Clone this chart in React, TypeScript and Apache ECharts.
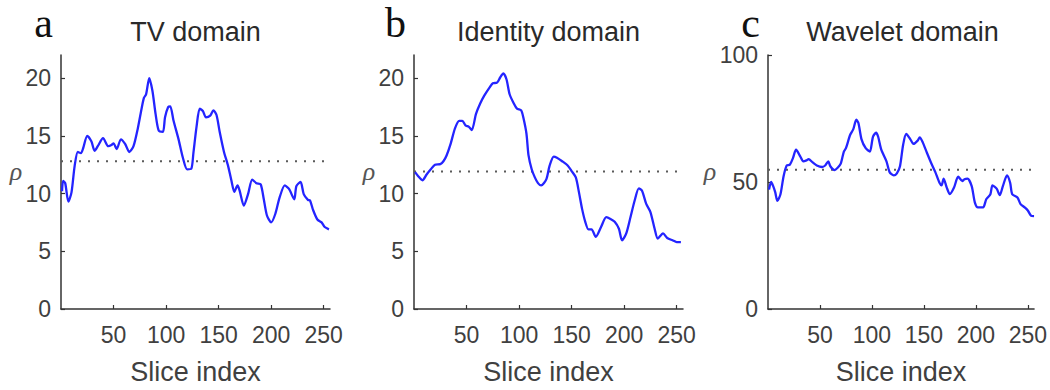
import React, { useEffect, useRef } from "react";
import * as echarts from "echarts";

// Slice index / rho pairs for the three regularisation domains
const tvSlices = [1, 2, 4, 7, 10, 13, 16, 19, 21, 25, 29, 32, 35, 40, 45, 48, 50, 53, 57, 61, 65, 69, 73, 77, 79, 81, 84, 87, 90, 93, 97, 99, 102, 104, 107, 112, 116, 120, 124, 126, 129, 132, 135, 138, 142, 145, 148, 151, 155, 159, 162, 165, 168, 170, 174, 178, 182, 186, 190, 193, 196, 200, 204, 208, 213, 217, 222, 224, 228, 231, 235, 237, 240, 244, 248, 251, 255];
const tvRho = [10.2, 11.1, 10.9, 9.3, 10.1, 12.4, 13.6, 13.5, 13.9, 15.0, 14.5, 13.7, 14.1, 14.8, 14.1, 14.2, 14.35, 13.85, 14.7, 14.3, 13.6, 14.1, 15.6, 17.5, 18.3, 18.6, 20.0, 18.9, 16.9, 15.45, 15.35, 16.6, 17.5, 17.55, 16.35, 14.65, 13.1, 12.1, 12.15, 13.5, 15.8, 17.35, 17.15, 16.6, 16.75, 17.2, 16.8, 15.35, 13.65, 12.4, 11.2, 10.15, 10.7, 10.25, 8.95, 9.95, 11.2, 10.9, 10.8, 9.5, 8.1, 7.5, 8.25, 9.65, 10.7, 10.4, 9.5, 10.65, 11.0, 9.95, 9.45, 9.4, 8.55, 7.75, 7.5, 7.1, 6.9];

const idSlices = [1, 4, 8, 12, 16, 20, 25, 28, 31, 35, 39, 43, 46, 49, 52, 55, 59, 63, 67, 72, 75, 79, 82, 85, 88, 91, 95, 98, 102, 104, 107, 109, 112, 115, 118, 121, 126, 129, 133, 136, 141, 146, 150, 154, 157, 160, 163, 166, 169, 173, 178, 183, 187, 191, 195, 198, 202, 206, 210, 214, 217, 221, 225, 229, 232, 237, 241, 246, 250, 254];
const idRho = [11.85, 11.5, 11.15, 11.65, 12.1, 12.5, 12.55, 12.8, 13.3, 14.35, 15.65, 16.3, 16.3, 15.9, 15.8, 15.5, 16.9, 17.8, 18.5, 19.2, 19.55, 19.6, 20.05, 20.4, 19.9, 18.6, 17.8, 17.35, 17.2, 16.6, 15.2, 13.3, 12.1, 11.4, 10.9, 10.7, 11.25, 12.4, 13.2, 13.1, 12.8, 12.45, 11.95, 11.4, 10.1, 8.65, 7.55, 6.9, 6.9, 6.25, 7.1, 7.95, 7.8, 7.55, 6.95, 5.95, 6.55, 7.95, 9.4, 10.45, 10.25, 9.1, 8.4, 6.95, 6.1, 6.55, 6.15, 5.95, 5.8, 5.8];

const wvSlices = [1, 3, 5, 7, 9, 12, 15, 18, 21, 24, 27, 31, 34, 37, 39, 43, 47, 52, 55, 58, 60, 64, 67, 70, 73, 75, 79, 82, 85, 87, 90, 94, 98, 101, 104, 106, 109, 114, 117, 121, 124, 127, 130, 133, 137, 140, 144, 146, 149, 153, 157, 161, 165, 167, 169, 172, 175, 179, 183, 187, 189, 192, 196, 199, 202, 207, 210, 214, 216, 220, 223, 226, 230, 233, 235, 240, 243, 247, 250, 253, 256];
const wvRho = [47, 50, 48.4, 45.9, 42.6, 45.2, 52.3, 56.5, 56.8, 59.4, 62.7, 60.1, 58.1, 58.5, 59.0, 57.7, 56.5, 55.9, 56.5, 58.1, 56.2, 54.7, 55.6, 57.2, 62.0, 63.3, 68.5, 70.7, 74.5, 73.2, 66.8, 63.3, 62.0, 67.8, 69.4, 67.8, 62.7, 58.1, 53.9, 52.6, 53.4, 56.2, 64.6, 68.9, 66.8, 65.0, 66.3, 67.6, 65.5, 61.4, 57.5, 53.9, 49.7, 48.7, 51.3, 47.8, 45.2, 47.8, 52.1, 50.4, 51.1, 51.3, 48.4, 42.0, 40.0, 40.0, 43.2, 45.2, 48.7, 47.4, 44.8, 48.4, 52.6, 49.7, 45.2, 43.9, 41.3, 40.0, 38.8, 36.8, 36.6];

// Mean rho of each domain (dotted reference line)
const meanRho = [12.8, 11.9, 54.8];

const panelTitles = ["TV domain", "Identity domain", "Wavelet domain"];
const panelLetters = ["a", "b", "c"];
const yMax = [22, 22, 100];
const yTicks = [
  [0, 5, 10, 15, 20],
  [0, 5, 10, 15, 20],
  [0, 50, 100],
];
const xTicks = [50, 100, 150, 200, 250];
const sliceRange = [0, 256];

const curves = [
  { slices: tvSlices, rho: tvRho },
  { slices: idSlices, rho: idRho },
  { slices: wvSlices, rho: wvRho },
];

const gridLefts = [61, 414, 768];
const gridTop = 55;
const gridWidth = 269;
const gridHeight = 258;

const axisColor = "#333333";
const textColor = "#404040";
const sans = "'Liberation Sans', Arial, Helvetica, sans-serif";

export default function App() {
  const ref = useRef<HTMLDivElement>(null);

  useEffect(() => {
    if (!ref.current) return;
    const chart = echarts.init(ref.current, undefined, { renderer: "svg" });

    const grids = gridLefts.map((left) => ({
      left,
      top: gridTop,
      width: gridWidth,
      height: gridHeight,
      containLabel: false,
    }));

    const axisLine = { show: true, lineStyle: { color: axisColor, width: 1.5 } };

    const xAxes = gridLefts.map((_, i) => ({
      type: "value",
      gridIndex: i,
      min: sliceRange[0],
      max: sliceRange[1],
      axisLine,
      axisTick: {
        show: true,
        inside: true,
        length: 4,
        customValues: xTicks,
        lineStyle: { color: axisColor, width: 1.2 },
      },
      axisLabel: {
        customValues: xTicks,
        margin: 14,
        fontSize: 23,
        color: textColor,
        fontFamily: sans,
      },
      splitLine: { show: false },
      name: "Slice index",
      nameLocation: "middle",
      nameGap: 49,
      nameTextStyle: { fontSize: 27, color: textColor, fontFamily: sans },
    }));

    const yAxes = gridLefts.map((_, i) => ({
      type: "value",
      gridIndex: i,
      min: 0,
      max: yMax[i],
      axisLine,
      axisTick: {
        show: true,
        inside: true,
        length: 4,
        customValues: yTicks[i],
        lineStyle: { color: axisColor, width: 1.2 },
      },
      axisLabel: {
        customValues: yTicks[i],
        margin: 10,
        fontSize: 23,
        color: textColor,
        fontFamily: sans,
      },
      splitLine: { show: false },
    }));

    const curveSeries = curves.map((c, i) => ({
      type: "line",
      xAxisIndex: i,
      yAxisIndex: i,
      data: c.slices.map((s, k) => [s, c.rho[k]]),
      showSymbol: false,
      smooth: 0.25,
      lineStyle: { color: "#2424ff", width: 2.3 },
      z: 3,
    }));

    const meanSeries = meanRho.map((m, i) => ({
      type: "line",
      xAxisIndex: i,
      yAxisIndex: i,
      data: [
        [sliceRange[0], m],
        [sliceRange[1], m],
      ],
      showSymbol: false,
      lineStyle: { color: "#5a5a5a", width: 2, type: [2, 7] },
      z: 2,
    }));

    const graphics: any[] = [];
    gridLefts.forEach((left, i) => {
      graphics.push({
        type: "text",
        x: left + gridWidth / 2,
        y: 31.5,
        style: {
          text: panelTitles[i],
          fontSize: 27,
          fontFamily: sans,
          fill: "#2a2a2a",
          align: "center",
          verticalAlign: "middle",
        },
      });
      graphics.push({
        type: "text",
        x: left - 8,
        y: 44,
        style: {
          text: panelLetters[i],
          fontSize: 42,
          fontFamily: "'Liberation Serif', 'Times New Roman', serif",
          fill: "#111111",
          align: "right",
          verticalAlign: "bottom",
        },
      });
    });
    const rhoX = [16, 369, 710];
    rhoX.forEach((x) => {
      graphics.push({
        type: "text",
        x,
        y: 171,
        style: {
          text: "ρ",
          fontSize: 26,
          fontStyle: "italic",
          fontFamily: "'Liberation Serif', 'Times New Roman', serif",
          fill: "#555555",
          align: "center",
          verticalAlign: "middle",
        },
      });
    });

    chart.setOption({
      animation: false,
      backgroundColor: "#ffffff",
      grid: grids,
      xAxis: xAxes,
      yAxis: yAxes,
      series: [...meanSeries, ...curveSeries],
      graphic: graphics,
    });

    return () => chart.dispose();
  }, []);

  return (
    <div
      ref={ref}
      style={{ position: "fixed", left: 0, top: 0, width: 1050, height: 390 }}
    />
  );
}
